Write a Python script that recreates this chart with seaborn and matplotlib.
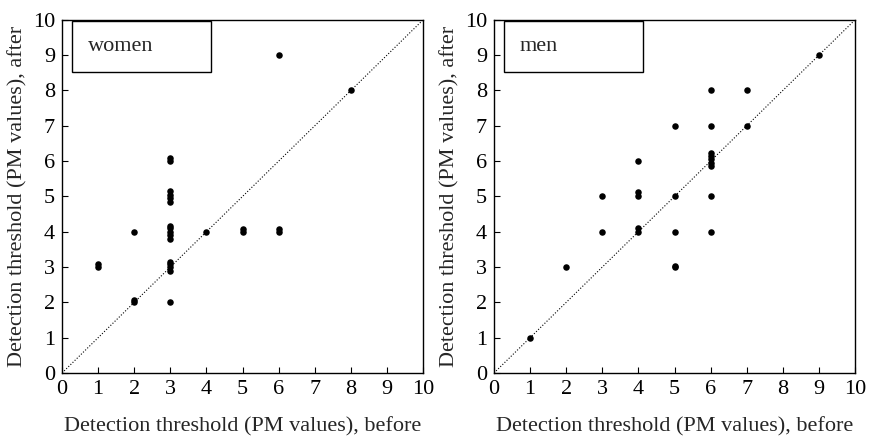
import pandas as pd
import matplotlib.pyplot as plt
import seaborn as sns
from matplotlib.patches import Rectangle

sns.set_theme(style="ticks")
plt.rcParams['font.family'] = ['Liberation Serif', 'DejaVu Serif']

# detection threshold values (before / after)
women_before = [1, 1, 2, 2, 2,
                3, 3, 3, 3, 3, 3, 3, 3, 3, 3, 3, 3, 3, 3, 3, 3,
                4, 5, 5, 6, 6, 6, 8]
women_after = [3.0, 3.08, 4.0, 2.0, 2.08,
               2.0, 2.9, 3.0, 3.1, 3.15, 3.8, 3.9, 4.0, 4.1, 4.15,
               4.85, 4.95, 5.05, 5.15, 6.0, 6.1,
               4.0, 4.0, 4.08, 4.0, 4.08, 9.0, 8.0]

men_before = [1, 2, 3, 3, 4, 4, 4, 4, 4,
              5, 5, 5, 5, 5,
              6, 6, 6, 6, 6, 6, 6, 6, 6,
              7, 7, 9]
men_after = [1, 3, 5, 4, 6, 5.0, 5.12, 4.0, 4.1,
             7, 5, 4, 3.0, 3.03,
             8, 7, 5.85, 5.95, 6.05, 6.15, 6.22, 5, 4,
             8, 7, 9]

panels = [("women", women_before, women_after),
          ("men", men_before, men_after)]

fig = plt.figure(figsize=(8.7, 4.36), dpi=100)
lefts = [0.0713, 0.5678]
ticks = list(range(0, 11))

for (name, before, after), left in zip(panels, lefts):
    ax = fig.add_axes([left, 0.1445, 0.415, 0.81])
    df = pd.DataFrame({'before': before, 'after': after})
    ax.plot([0, 10], [0, 10], linestyle=':', color='black', linewidth=0.8)
    sns.scatterplot(data=df, x='before', y='after', ax=ax, color='black',
                    s=22, edgecolor='black', linewidth=0, zorder=3)
    ax.set_xlim(0, 10)
    ax.set_ylim(0, 10)
    ax.set_xticks(ticks)
    ax.set_yticks(ticks)
    ax.tick_params(direction='in', length=4, width=0.8, labelsize=16,
                   colors='black', pad=5)
    for sp in ax.spines.values():
        sp.set_color('black')
        sp.set_linewidth(1.0)
    ax.set_xlabel('Detection threshold (PM values), before', fontsize=16,
                  labelpad=13)
    ax.set_ylabel('Detection threshold (PM values), after', fontsize=16,
                  labelpad=4)
    ax.add_patch(Rectangle((0.028, 0.851), 0.385, 0.145, transform=ax.transAxes,
                           facecolor='white', edgecolor='black', linewidth=1.0,
                           zorder=4))
    ax.text(0.072, 0.925, name, transform=ax.transAxes, fontsize=16,
            va='center', ha='left', zorder=5)

plt.savefig('out.png', dpi=100)
